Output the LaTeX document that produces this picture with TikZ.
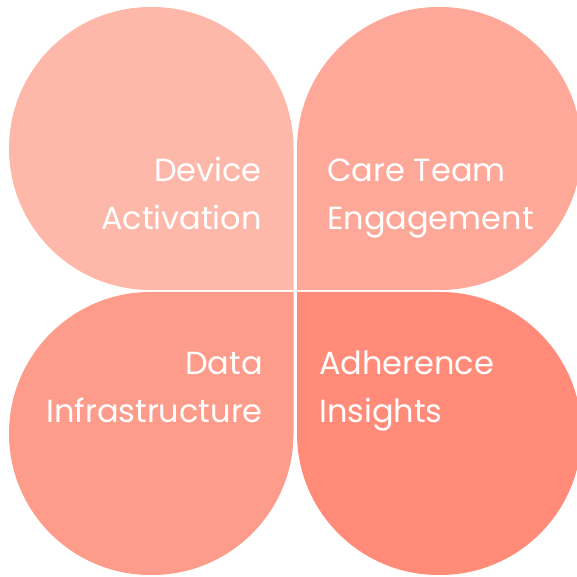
\documentclass[tikz,border=0pt]{standalone}
\usepackage{fontspec}
\setmainfont{Poppins}
\definecolor{petalA}{HTML}{FDB8AA}
\definecolor{petalB}{HTML}{FDA899}
\definecolor{petalC}{HTML}{FE9C8B}
\definecolor{petalD}{HTML}{FF8B78}
\tikzset{
  label/.style={text=white, inner sep=0pt, font=\fontsize{32}{48}\selectfont},
  petal/.pic={\fill (0,0) -- (-143,0) arc[start angle=270,end angle=180,radius=141.5]
      arc[start angle=180,end angle=90,radius=141.5] -- (-141.5,283)
      arc[start angle=90,end angle=0,radius=141.5] -- cycle;}
}
\begin{document}
\begin{tikzpicture}[x=1pt,y=1pt]
  \useasboundingbox (0,0) rectangle (577,577);
  % the four petals, sharp corner towards the middle
  \pic[petalA] at (293.5,287) {petal};
  \pic[petalB, xscale=-1] at (297,287) {petal};
  \pic[petalC, yscale=-1] at (293.5,285) {petal};
  \pic[petalD, xscale=-1, yscale=-1] at (297,285) {petal};

  \node[label, align=right, anchor=base east] (device) at (262,347) {Device\\Activation};
  \node[label, align=left, anchor=base west] (care) at (327,347) {Care Team\\Engagement};
  \node[label, align=right, anchor=base east] (data) at (263,154) {Data\\Infrastructure};
  \node[label, align=left, anchor=base west] (adherence) at (319,154) {Adherence\\Insights};
\end{tikzpicture}
\end{document}
